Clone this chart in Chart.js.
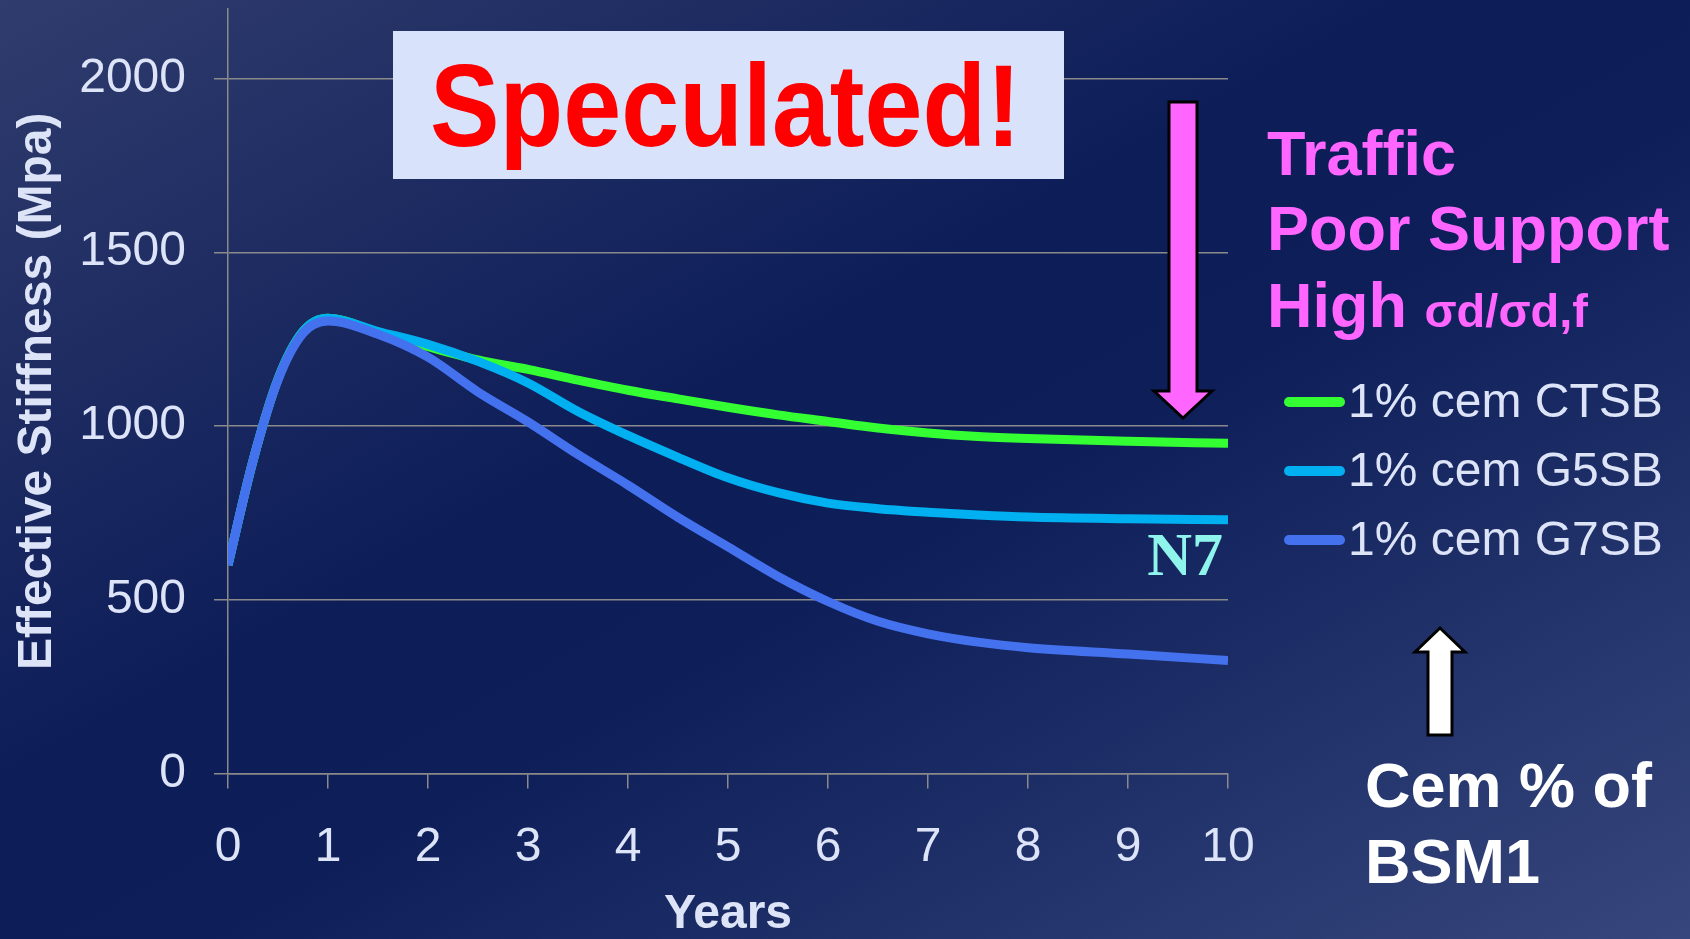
<!DOCTYPE html>
<html>
<head>
<meta charset="utf-8">
<script src="https://cdn.jsdelivr.net/npm/chart.js@4.4.0/dist/chart.umd.min.js"></script>
<style>
  html, body { margin: 0; padding: 0; background: #0d1d58; overflow: hidden; }
  canvas { display: block; }
</style>
</head>
<body>
<canvas id="chart" width="1690" height="939"></canvas>
<script>
// values (years -> effective stiffness in MPa)
const years = [0, 0.25, 0.5, 0.75, 1, 1.5, 2, 2.5, 3, 3.5, 4, 4.5, 5, 5.5, 6, 6.5, 7, 7.5, 8, 9, 10];
const ctsb = [600, 900, 1135, 1272, 1310, 1270, 1228, 1190, 1163, 1132, 1103, 1078, 1054, 1032, 1013, 994, 980, 970, 964, 956, 950];
const g5sb = [600, 900, 1135, 1272, 1310, 1272, 1235, 1186, 1124, 1042, 973, 910, 851, 808, 778, 762, 752, 744, 738, 733, 730];
const g7sb = [600, 900, 1133, 1267, 1302, 1264, 1198, 1098, 1012, 918, 830, 737, 652, 567, 495, 438, 402, 378, 362, 344, 325];

const seriesNames = ['1% cem CTSB', '1% cem G5SB', '1% cem G7SB'];
const seriesColors = ['#33ff33', '#00b0f0', '#4472ee'];
const yTicks = [0, 500, 1000, 1500, 2000];
const xTicks = [0, 1, 2, 3, 4, 5, 6, 7, 8, 9, 10];

const textColor = '#dde4f8';
const gridColor = '#8a8a8a';
const sans = '"Liberation Sans", Arial, sans-serif';

const toPoints = function(values) {
  return values.map((v, i) => ({ x: years[i], y: v }));
};

const bgPlugin = {
  id: 'bg',
  beforeDraw(chart) {
    const { ctx, width, height } = chart;
    // light top-left and bottom-right, dark across the middle
    const g = ctx.createLinearGradient(0, 0, 797, 1435);
    g.addColorStop(0, '#303c6d');
    g.addColorStop(0.42, '#0d1d58');
    g.addColorStop(0.56, '#0d1e59');
    g.addColorStop(1, '#37477d');
    ctx.save();
    ctx.fillStyle = g;
    ctx.fillRect(0, 0, width, height);
    ctx.restore();
  }
};

const arrow = function(ctx, pts, fill) {
  ctx.beginPath();
  ctx.moveTo(pts[0][0], pts[0][1]);
  pts.slice(1).forEach(p => ctx.lineTo(p[0], p[1]));
  ctx.closePath();
  ctx.fillStyle = fill;
  ctx.fill();
  ctx.lineWidth = 3;
  ctx.strokeStyle = '#000000';
  ctx.lineJoin = 'miter';
  ctx.stroke();
};

const notesPlugin = {
  id: 'notes',
  afterDraw(chart) {
    const ctx = chart.ctx;
    ctx.save();

    // "Speculated!" banner
    ctx.fillStyle = '#d9e2fb';
    ctx.fillRect(393, 31, 671, 148);
    ctx.font = `bold 116px ${sans}`;
    const w = ctx.measureText('Speculated!').width;
    ctx.save();
    ctx.translate(725.5, 146);
    ctx.scale(591 / w, 1);
    ctx.fillStyle = '#ff0000';
    ctx.textAlign = 'center';
    ctx.textBaseline = 'alphabetic';
    ctx.fillText('Speculated!', 0, 0);
    ctx.restore();

    // down arrow (pink) and up arrow (white)
    arrow(ctx, [[1169, 102], [1197, 102], [1197, 391], [1212, 391], [1183, 418], [1154, 391], [1169, 391]], '#ff66ff');
    arrow(ctx, [[1440, 628], [1465, 652], [1452, 652], [1452, 735], [1428, 735], [1428, 652], [1415, 652]], '#ffffff');

    // pink notes
    ctx.textAlign = 'left';
    ctx.textBaseline = 'alphabetic';
    ctx.fillStyle = '#ff66ff';
    ctx.font = `bold 63px ${sans}`;
    ctx.fillText('Traffic', 1267, 175);
    ctx.fillText('Poor Support', 1267, 250);
    ctx.fillText('High ', 1267, 327);
    const hw = ctx.measureText('High ').width;
    ctx.font = `bold 47px ${sans}`;
    ctx.fillText('σd/σd,f', 1267 + hw, 327);

    // legend
    ctx.lineCap = 'round';
    ctx.lineWidth = 10;
    ctx.font = `48px ${sans}`;
    ctx.textBaseline = 'middle';
    chart.data.datasets.forEach((ds, i) => {
      const y = 402 + i * 69;
      ctx.strokeStyle = ds.borderColor;
      ctx.beginPath();
      ctx.moveTo(1289, y);
      ctx.lineTo(1340, y);
      ctx.stroke();
      ctx.fillStyle = textColor;
      ctx.fillText(ds.label, 1348, y + 2);
    });

    // N7 label
    ctx.textBaseline = 'alphabetic';
    ctx.textAlign = 'right';
    ctx.fillStyle = '#8ff5ec';
    ctx.font = 'bold 62px "Liberation Serif", "Times New Roman", serif';
    ctx.fillText('N7', 1223, 575);

    // cement note
    ctx.textAlign = 'left';
    ctx.fillStyle = '#ffffff';
    ctx.font = `bold 63px ${sans}`;
    ctx.fillText('Cem % of', 1365, 807);
    ctx.fillText('BSM1', 1365, 883);

    ctx.restore();
  }
};

const noPad = function(s) {
  s.paddingTop = 0;
  s.paddingBottom = 0;
  s.paddingLeft = 0;
  s.paddingRight = 0;
};

const ctx = document.getElementById('chart').getContext('2d');
const chart = new Chart(ctx, {
  type: 'line',
  data: {
    datasets: [
      { label: seriesNames[0], data: toPoints(ctsb), borderColor: seriesColors[0], order: 3 },
      { label: seriesNames[1], data: toPoints(g5sb), borderColor: seriesColors[1], order: 2 },
      { label: seriesNames[2], data: toPoints(g7sb), borderColor: seriesColors[2], order: 1 }
    ]
  },
  options: {
    responsive: false,
    animation: false,
    layout: { autoPadding: false, padding: { top: 9, right: 462, left: 0, bottom: 0 } },
    plugins: {
      legend: { display: false },
      tooltip: { enabled: false }
    },
    elements: {
      point: { radius: 0 },
      line: { borderWidth: 9, cubicInterpolationMode: 'monotone', fill: false, borderCapStyle: 'butt' }
    },
    scales: {
      x: {
        type: 'linear',
        min: 0,
        max: 10,
        afterBuildTicks: axis => { axis.ticks = xTicks.map(v => ({ value: v })); },
        afterFit: s => { s.height = 165.5; noPad(s); },
        grid: { drawOnChartArea: false, drawTicks: true, tickLength: 15, color: gridColor, lineWidth: 1.5 },
        border: { color: gridColor, width: 1.5 },
        ticks: { color: textColor, font: { family: sans, size: 48 }, padding: 30, maxRotation: 0, callback: v => String(v) },
        title: {
          display: true,
          text: 'Years',
          color: textColor,
          font: { family: sans, size: 48, weight: 'bold', lineHeight: 1 },
          padding: 0
        }
      },
      y: {
        min: 0,
        max: 2200,
        afterBuildTicks: axis => { axis.ticks = yTicks.map(v => ({ value: v })); },
        afterFit: s => { s.width = 228; noPad(s); },
        grid: { tickLength: 14, color: gridColor, lineWidth: 1.5 },
        border: { color: gridColor, width: 1.5 },
        ticks: { color: textColor, font: { family: sans, size: 48 }, padding: 28, callback: v => String(v) },
        title: {
          display: true,
          text: 'Effective Stiffness (Mpa)',
          color: textColor,
          font: { family: sans, size: 48, weight: 'bold', lineHeight: 1 },
          padding: { top: 14, bottom: 0 }
        }
      }
    }
  },
  plugins: [bgPlugin, notesPlugin]
});
</script>
</body>
</html>
